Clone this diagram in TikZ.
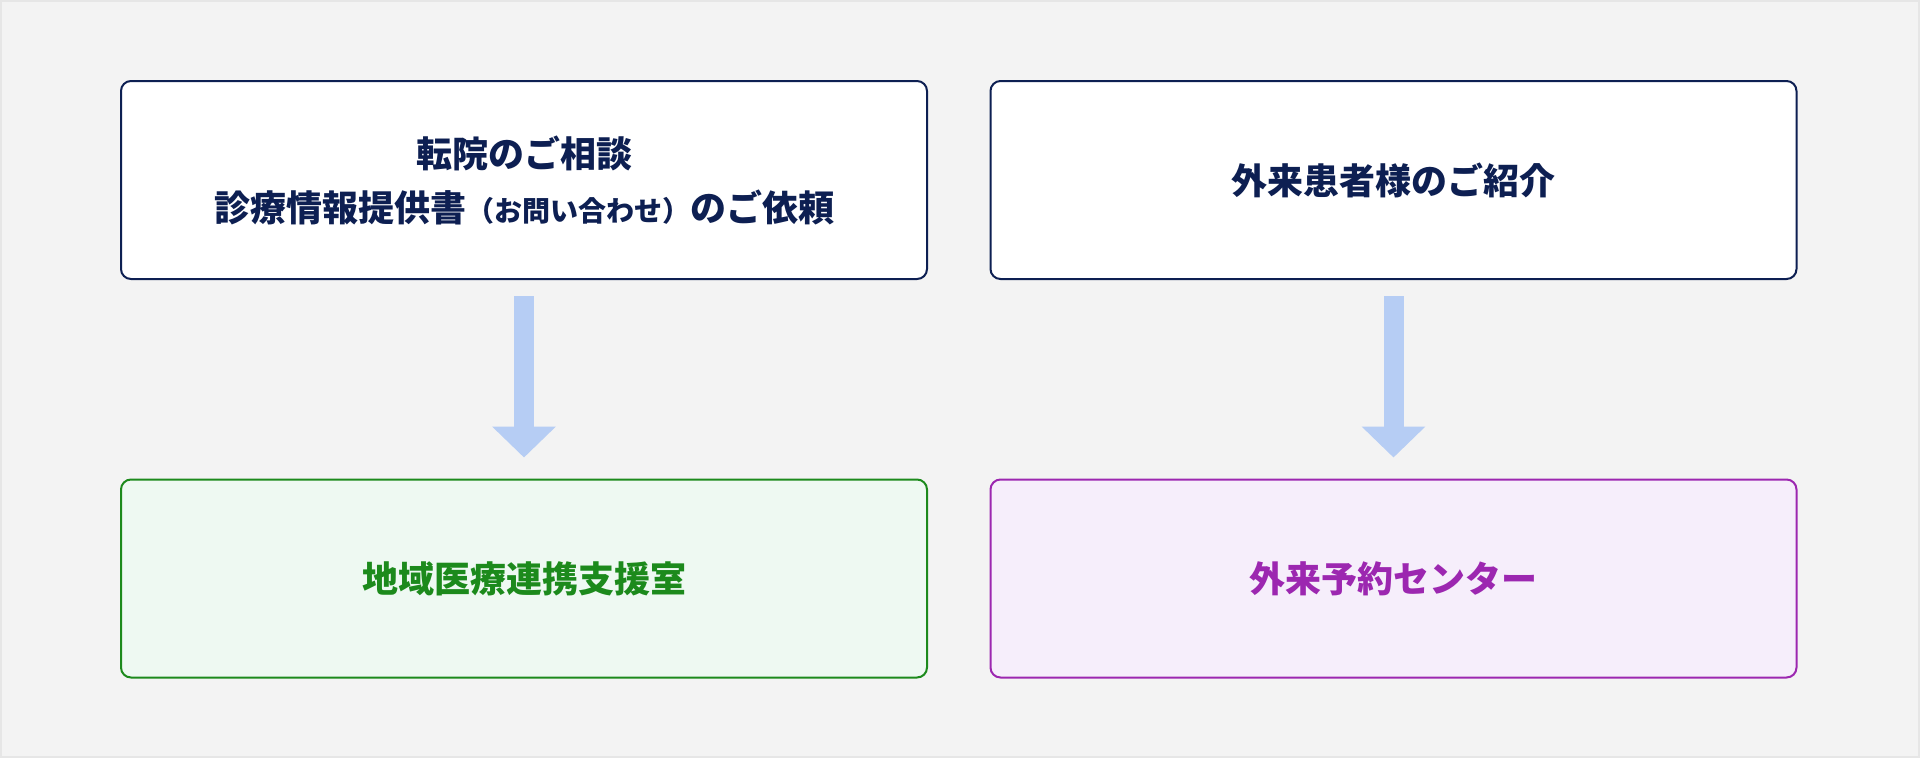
\documentclass[tikz,border=0pt]{standalone}
\usepackage{fontspec}
\newfontfamily\jp{Noto Sans CJK JP}
\usetikzlibrary{arrows.meta}
\definecolor{bgc}{HTML}{F3F3F3}
\definecolor{edgec}{HTML}{E6E6E6}
\definecolor{navy}{HTML}{0D1F52}
\definecolor{grn}{HTML}{1C8A1C}
\definecolor{grnfill}{HTML}{EEF9F2}
\definecolor{prp}{HTML}{9C27B0}
\definecolor{prpfill}{HTML}{F6EEFB}
\definecolor{arrc}{HTML}{B6CDF4}
\tikzset{
  box/.style={rectangle, rounded corners=10pt, line width=2pt, minimum width=806pt, minimum height=198pt, align=center, inner sep=0pt, font=\jp\bfseries\fontsize{36}{54}\selectfont},
  srcbox/.style={box, draw=navy, fill=white, text=navy},
  grnbox/.style={box, draw=grn, fill=grnfill, text=grn},
  prpbox/.style={box, draw=prp, fill=prpfill, text=prp},
  flow/.style={draw=arrc, line width=20pt, -{Triangle[width=62pt,length=31pt]}, shorten <=16pt, shorten >=21pt}
}
\begin{document}
\begin{tikzpicture}[x=1pt,y=-1pt]
\fill[bgc] (0,0) rectangle (1920,758);
\draw[edgec, line width=2pt] (1,1) rectangle (1919,757);
\useasboundingbox (0,0) rectangle (1920,758);
\node[srcbox] (a) at (524,180) {転院のご相談\\診療情報提供書{\fontsize{28}{28}\selectfont（お問い合わせ）}のご依頼};
\node[srcbox] (b) at (1393.5,180) {外来患者様のご紹介};
\node[grnbox] (c) at (524,578.5) {地域医療連携支援室};
\node[prpbox] (d) at (1393.5,578.5) {外来予約センター};
\draw[flow] (a.south) -- (c.north);
\draw[flow] (b.south) -- (d.north);
\end{tikzpicture}
\end{document}
